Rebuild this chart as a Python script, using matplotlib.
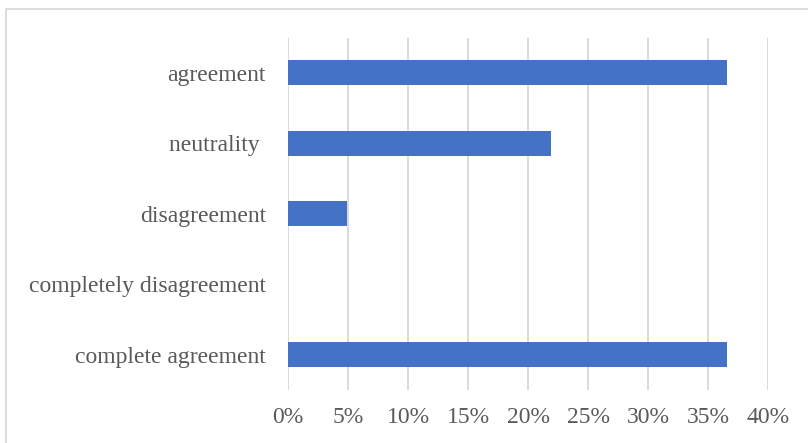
import matplotlib.pyplot as plt
from matplotlib.patches import Rectangle
from matplotlib.ticker import PercentFormatter

# categories from bottom to top
categories = ["complete agreement", "completely disagreement", "disagreement",
              "neutrality ", "agreement"]
counts = [15, 0, 2, 9, 15]
total = 41
shares = [c / total for c in counts]

ticks = [0, 0.05, 0.10, 0.15, 0.20, 0.25, 0.30, 0.35, 0.40]

plt.rcParams["font.family"] = ["Liberation Serif", "DejaVu Serif"]

fig = plt.figure(figsize=(8.08, 4.43), dpi=100)
ax = fig.add_axes([288 / 808, 1 - 390 / 443, 480 / 808, 352.5 / 443])

ax.barh(range(len(categories)), shares, height=0.355, color="#4472C4", zorder=3)

ax.set_xlim(0, 0.40)
ax.set_ylim(-0.5, len(categories) - 0.5)
ax.set_xticks(ticks)
ax.xaxis.set_major_formatter(PercentFormatter(1.0, decimals=0))
ax.set_yticks(range(len(categories)))
ax.set_yticklabels(categories)

ax.grid(axis="x", color="#D9D9D9", linewidth=1.3, zorder=0)
for s in ax.spines.values():
    s.set_visible(False)
ax.tick_params(axis="both", length=0, labelsize=17, labelcolor="#595959")
ax.tick_params(axis="y", pad=16)
ax.tick_params(axis="x", pad=12)

# chart border (only top and left edges fall inside the image)
fig.patches.append(Rectangle((5.5 / 808, -0.1), 1.2, 1.1 - 8.5 / 443 + 0.0,
                             transform=fig.transFigure, fill=False,
                             edgecolor="#D9D9D9", linewidth=1.3))

fig.savefig("out.png", dpi=100)
